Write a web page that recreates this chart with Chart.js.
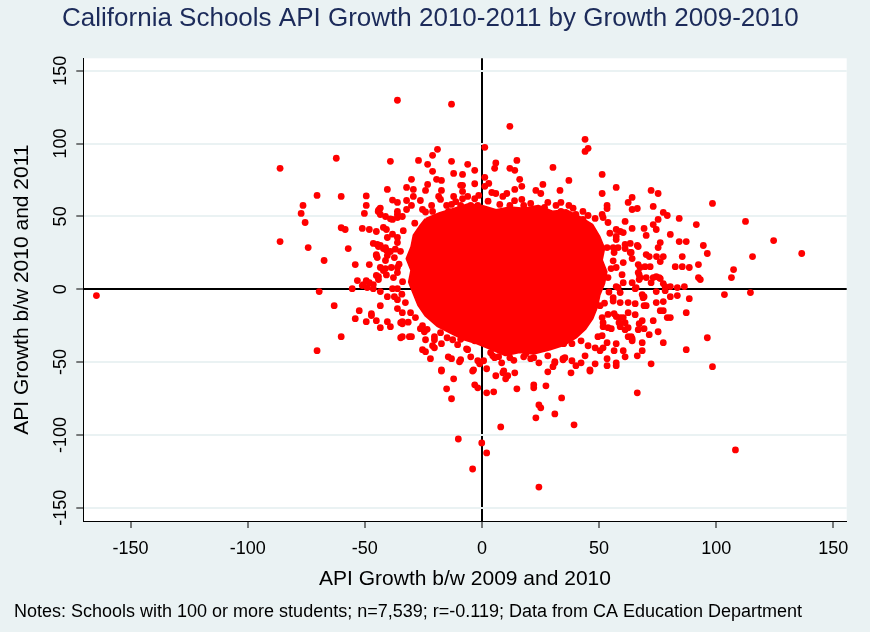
<!DOCTYPE html>
<html>
<head>
<meta charset="utf-8">
<title>California Schools API Growth</title>
<script src="https://cdn.jsdelivr.net/npm/chart.js@4.4.0/dist/chart.umd.min.js"></script>
<style>
  html, body { margin: 0; padding: 0; background: #eaf2f3; }
  canvas { display: block; }
</style>
</head>
<body>
<canvas id="apiChart" width="870" height="632"></canvas>
<script>
const xTicks = [-150, -100, -50, 0, 50, 100, 150];
const yTicks = [-150, -100, -50, 0, 50, 100, 150];

// [growth 2009-10, growth 2010-11] for schools that can still be told apart
const leftSchools = [
  [-164.6,-4.4],
  [-86.2,83.0],[-62.2,89.9],[-70.4,64.4],[-60.1,63.7],[-76.4,57.5],[-77.2,52.0],[-75.5,45.8],[-60.1,42.2],
  [-86.2,32.7],[-74.2,28.6],[-67.4,19.7],[-69.5,-1.6],[-63.1,-11.3],[-60.1,-32.6],[-70.4,-42.2],
  [-39.1,87.8],[-49.4,64.0],[-49.4,57.5],[-50.2,52.0],[-40.4,68.5],[-38.2,61.2],[-36.1,59.6],[-43.4,55.7],
  [-44.3,53.4],[-41.2,49.9],[-39.1,48.3],[-58.4,41.0],[-51.1,41.7],[-48.1,41.0],[-45.1,39.6],[-42.1,42.4],
  [-57.1,27.9],[-54.1,16.9],[-48.1,16.9],[-46.4,31.4],[-44.7,30.7],[-45.1,23.1],[-53.2,5.9],[-49.4,5.9],
  [-51.1,2.5],[-55.4,0.4],[-52.4,-14.7],[-54.1,-20.2],[-49.4,-22.3],[-47.2,-16.8],[-45.1,-21.6],[-43.4,-26.4],
  [-43.4,-11.3],[-40.4,-22.3],[-39.1,-25.7],[-40.4,-5.1],[-43.4,-1.6],[-46.4,0.4],[-45.1,9.4],[-42.1,12.8],
  [-44.7,21.7],[-41.2,19.7],[-44.2,29.3],[-42.1,27.9],[-40.8,26.8],[-45.1,23.8],[-44.2,8.7],[-47.2,-18.1],
  [-36.1,53.4],[-38.2,47.9],[-36.1,49.2],[-40.8,41.0],[-38.2,37.8],[-36.1,35.5],[-40.4,35.5],[-43.4,30.0],
  [-41.2,28.6],[-39.1,25.9],[-37.0,27.5],[-36.1,32.0],[-40.4,23.1],[-37.4,21.7],[-35.4,17.2],[-43.4,14.9],
  [-41.2,14.2],[-38.7,14.9],[-36.1,14.9],[-40.8,9.8],[-37.8,8.0],[-36.1,11.4],[-44.2,6.6],[-48.1,4.5],
  [-46.4,3.2],[-50.7,3.2],[-49.0,1.1],[-38.2,0.4],[-36.1,0.4],[-37.4,-5.1],[-36.1,-7.2],[-34.7,-23.0],
  [-34.7,-33.3],[-34.0,-16.1],[-30.5,-16.1],[-28.4,-19.5],[-32.7,-9.2],[-23.4,-27.5],[-17.7,-29.8],
  [-14.9,-33.3],[-9.1,-34.4],[-33.6,40.2],[-34.8,26.0],[-33.9,5.2],[-34.2,-3.4],[-31.5,-22.6],[-28.7,45.3]
];

const topSchools = [
  [-36.1,129.7],[-13.0,127.0],[11.9,111.8],[44.0,102.9],[44.0,94.6],[45.3,96.7],[1.2,97.4],[-19.0,96.0],
  [-21.1,91.9],[-27.1,88.4],[-23.2,85.7],[-13.0,87.8],[-6.1,85.7],[-3.1,81.6],[-21.1,80.9],[-12.1,79.5],
  [-8.3,78.8],[-30.1,75.4],[-32.2,69.9],[-23.2,71.9],[-19.4,75.4],[-17.3,74.7],[-17.3,67.8],[-8.3,71.3],
  [-3.1,72.4],[1.2,76.8],[2.9,72.6],[5.9,86.7],[5.4,83.0],[11.9,83.0],[14.9,88.4],[14.0,81.6],[16.1,75.4],
  [17.0,70.6],[30.3,83.6],[37.1,74.7],[26.0,71.9],[33.3,67.8],[23.0,67.8],[25.1,65.7],[51.3,78.8],[51.3,65.7],
  [4.2,66.4],[5.9,65.7],[10.6,65.7],[14.0,68.5],[-43.8,54.7],[-32.2,60.9],[-29.3,68.5],[-26.3,60.9],
  [-24.1,67.8],[28.1,59.6],[31.6,57.5],[33.7,59.6],[37.1,57.5],[43.1,53.4],[51.3,51.3],
  [-30.1,57.5],[-29.3,63.7],[-32.2,54.7],[-25.4,54.7],[-24.1,53.0],[-21.5,57.5],[-21.1,53.4],[-18.5,63.7],
  [-17.7,61.6],[-15.1,57.5],[-14.3,53.4],[-12.1,63.7],[-13.0,58.2],[-9.1,71.3],[-8.3,67.1],[-8.3,62.1],
  [-9.1,57.5],[-6.1,63.7],[-4.8,57.5],[-3.1,62.1],[-1.4,64.4],[-1.8,57.5],[1.2,70.6],[7.6,58.2],[8.9,63.7],
  [11.9,57.5],[17.0,61.6],[17.8,57.5],[18.7,54.1],[22.1,53.4],[25.1,52.7],[40.1,51.3],[45.3,50.6],
  [28.6,50.6],[33.7,53.4],[-44.2,54.1],[-43.4,51.3],[-36.1,51.3],[-34.0,49.9],
  [2.6,60.4],[13.9,60.8],[20.8,58.9],[26.7,56.1],[38.9,55.6],[-11.2,60.1]
];

const rightSchools = [
  [57.3,69.9],[64.1,63.0],[62.4,59.6],[72.2,67.8],[75.2,65.7],[53.4,57.5],[53.4,55.4],[64.1,54.7],
  [66.3,55.4],[73.1,56.8],[77.4,52.7],[79.1,50.6],[84.2,48.6],[98.4,58.9],[61.1,46.5],[75.2,47.9],
  [91.5,44.4],[112.5,46.5],[64.1,41.7],[69.2,41.7],[74.4,41.0],[73.1,44.4],[80.4,37.6],[70.1,36.9],
  [124.5,33.4],[136.5,24.5],[84.2,32.7],[87.2,32.7],[94.5,30.0],[96.2,24.5],[85.5,22.4],[115.5,22.4],
  [82.5,15.5],[85.5,15.5],[88.5,14.9],[92.4,16.9],[107.4,13.5],[106.5,8.0],[92.4,8.0],[93.2,6.6],
  [103.5,-3.7],[114.6,-2.3],[80.4,1.8],[83.4,1.1],[86.4,1.8],[74.4,-1.6],[78.2,-1.0],[88.5,-6.5],
  [80.4,-5.1],[83.4,-4.4],[74.4,-9.2],[77.4,-8.5],[87.2,-16.1],[76.1,-14.7],[77.4,-14.7],[79.1,-19.5],
  [80.4,-19.5],[73.1,-21.6],[68.4,-21.6],[67.1,-23.7],[75.2,-29.2],[69.2,-27.1],[71.4,-31.2],[96.2,-33.3],
  [77.4,-36.7],[68.4,-36.7],[64.1,-34.0],[64.1,-35.4],[87.2,-41.5],[68.4,-42.2],[66.3,-45.7],[61.1,-46.4],
  [72.2,-51.2],[98.4,-53.2],[57.3,-50.5],[57.3,-52.5],[53.4,-47.7],[53.4,-52.5],[60.3,-42.2],[56.4,-42.2],
  [57.3,-37.4],[65.4,-17.5],[71.4,22.4],[74.5,22.4],[76.1,19.0],[55.2,-27.1],[62.4,-32.6],
  [43.1,47.9],[48.3,48.6],[51.7,49.2],[53.8,45.8],[77.4,22.4],[75.2,28.6],[76.1,32.0],[66.7,29.3],
  [61.1,27.9],[63.7,25.2],[70.1,23.8],[74.4,8.7],[75.6,8.0],[70.1,8.0],[72.2,4.5],[66.7,11.4],[67.5,8.0],
  [78.2,1.8],[69.2,-5.1],[70.1,-11.3],[65.4,0.4],[49.5,-32.6],[63.7,-32.6],[66.7,-27.8],[60.3,-19.5],
  [61.1,-23.0],[58.5,-23.0],[57.3,-18.8],[62.4,-16.1],[68.4,-3.7],[77.4,3.9],[31.1,-49.8],[30.3,-53.2],
  [34.6,-47.7],[57.3,41.0],[59.0,39.6],[60.3,38.9],[57.3,36.2],[57.3,34.1],[61.1,30.7],[63.3,31.4],
  [66.3,30.0],[56.0,28.6],[56.4,25.2],[63.3,25.2],[64.1,21.0],[66.7,16.9],[60.3,18.3],[57.3,14.9],
  [59.8,10.0],[67.5,14.9],[69.6,15.5],[71.8,15.5],[67.1,10.0],[67.1,6.6],[73.1,8.0],[76.1,7.3],[60.3,4.5],
  [64.1,4.5],[65.8,1.1],[57.3,1.8],[59.0,-2.3],[56.0,-5.8],[59.0,-9.2],[62.4,-9.2],[65.4,-9.9],[68.8,-5.8],
  [69.2,-11.3],[56.4,-16.8],[59.0,-19.5],[62.4,-26.4],[59.0,-25.7],[61.1,-27.8],[51.7,-23.0],[53.8,-26.4],
  [53.4,-36.7],[51.7,-40.2],[53.4,28.6],[58.1,28.6],[56.0,19.5],[53.8,8.0],[58.1,1.1],[56.0,-8.1],[53.8,-17.3],
  [54.6,38.4],[55.1,14.2],[54.2,-1.9],[52.3,-9.6]
];

const bottomSchools = [
  [66.3,-71.1],[108.2,-110.3],[-12.1,-61.5],[-15.1,-68.4],[-13.0,-75.2],[-3.1,-65.6],[-1.8,-67.7],
  [2.0,-71.1],[5.0,-70.4],[5.9,-59.4],[8.9,-57.4],[11.0,-59.4],[10.1,-61.5],[14.0,-57.4],[14.9,-68.4],
  [22.1,-65.6],[22.1,-67.7],[27.3,-66.3],[28.1,-56.7],[38.0,-57.4],[46.1,-56.2],[34.0,-74.6],[24.3,-79.4],
  [25.1,-81.4],[23.0,-88.3],[31.1,-85.6],[39.3,-93.1],[8.0,-94.5],[-10.1,-102.8],[-0.1,-105.5],
  [2.0,-112.4],[-4.0,-123.4],[24.3,-135.8],[-17.3,-56.2],[-4.0,-56.2],
  [-34.0,-22.3],[-34.0,-23.7],[-36.1,-13.3],[-34.0,-32.6],[-31.0,-32.6],[-30.1,-32.6],[-25.4,-25.0],
  [-26.3,-27.1],[-24.6,-29.2],[-24.1,-34.7],[-25.4,-41.5],[-24.1,-42.9],[-22.0,-47.7],[-21.1,-38.8],
  [-20.3,-40.2],[-20.3,-32.6],[-20.3,-34.7],[-17.3,-37.4],[-12.5,-34.7],[-17.3,-55.3],[-14.4,-46.4],
  [-13.0,-47.7],[-9.6,-49.8],[-9.1,-48.4],[-6.1,-41.5],[-4.8,-46.4],[-3.6,-55.3],[-1.8,-49.1],[-1.0,-51.2],
  [2.0,-54.6],[0.7,-49.1],[4.6,-45.7],[5.4,-47.0],[8.4,-50.5],[9.3,-56.0],[11.9,-47.0],[16.1,-41.5],
  [17.8,-46.4],[22.1,-47.0],[24.3,-50.5],[28.1,-45.7],[31.1,-50.5],[34.6,-48.4],[35.4,-47.0],[38.4,-49.1],
  [40.1,-52.5],[42.3,-50.5],[46.1,-55.3],[48.3,-51.2],[44.0,-45.7],[48.3,-40.2],[51.3,-31.9],[50.4,-42.2],
  [45.3,-38.8],[50.4,-11.3],[51.3,-19.5],[51.7,-25.7],[42.3,-35.4],[38.4,-37.4],[34.9,-37.4],[18.7,-44.3],
  [20.8,-47.7],[11.9,-41.5],[3.7,-43.6],[-3.1,-35.4],[-6.6,-40.9],[7.1,-46.3],[13.6,-48.8],[-10.4,-38.1]
];

// edge of the middle of the cloud, where thousands of dots merge into solid red
const cloudOutline = [
  [-24,48],[-18,52],[-12,55],[-6,58],[0,57],[6,54],[12,56],[18,55],[24,57],[30,53],[36,54],[42,49],
  [47,44],[50,36],[52,28],[51,20],[53,12],[52,4],[50,-4],[49,-12],[47,-20],[44,-27],[40,-33],[35,-38],
  [29,-41],[22,-44],[16,-43],[10,-45],[4,-41],[-2,-37],[-8,-34],[-13,-30],[-19,-25],[-24,-18],[-27,-11],
  [-29,-3],[-31,5],[-30,13],[-32,21],[-30,29],[-29,37],[-26,44],[-24,48]
];

const toXY = p => ({ x: p[0], y: p[1] });
const schoolPoints = [].concat(leftSchools, topSchools, rightSchools, bottomSchools).map(toXY);
const cloudPoints = cloudOutline.map(toXY);

const FONT = "'Liberation Sans', Arial, sans-serif";
const BG = '#eaf2f3';

// light page colour outside, white plot region
const plotBg = {
  id: 'plotBg',
  beforeDraw(chart) {
    const { ctx, chartArea: a } = chart;
    ctx.save();
    ctx.fillStyle = BG;
    ctx.fillRect(0, 0, chart.width, chart.height);
    ctx.fillStyle = '#ffffff';
    ctx.fillRect(a.left, a.top, a.right - a.left, a.bottom - a.top);
    ctx.restore();
  }
};

const isZero = c => c.tick && c.tick.value === 0;

new Chart(document.getElementById('apiChart'), {
  type: 'scatter',
  data: {
    datasets: [
      {
        type: 'line',
        label: 'dense cloud',
        data: cloudPoints,
        borderColor: '#ff0000',
        backgroundColor: '#ff0000',
        borderWidth: 3,
        borderJoinStyle: 'round',
        pointRadius: 0,
        fill: 'shape',
        tension: 0
      },
      {
        label: 'schools',
        data: schoolPoints,
        backgroundColor: '#ff0000',
        borderWidth: 0,
        pointRadius: 3.4
      }
    ]
  },
  options: {
    responsive: false,
    devicePixelRatio: 1,
    animation: false,
    layout: { padding: { left: 14, right: 23.3, top: 0, bottom: 0 } },
    plugins: {
      legend: { display: false },
      tooltip: { enabled: false },
      title: {
        display: true,
        text: 'California Schools API Growth 2010-2011 by Growth 2009-2010',
        color: '#1c2b5a',
        font: { family: FONT, size: 26, weight: 'normal' },
        padding: { top: 3, bottom: 24.1 }
      },
      subtitle: {
        display: true,
        position: 'bottom',
        align: 'start',
        text: 'Notes: Schools with 100 or more students; n=7,539; r=-0.119; Data from CA Education Department',
        color: '#000000',
        font: { family: FONT, size: 18, weight: 'normal' },
        padding: { top: 0, bottom: 9.4 }
      }
    },
    scales: {
      x: {
        type: 'linear',
        min: -170.2,
        max: 155.7,
        afterBuildTicks: s => { s.ticks = xTicks.map(v => ({ value: v })); },
        afterFit: s => { s.height = 80; },
        grid: {
          color: c => isZero(c) ? '#000000' : 'rgba(0,0,0,0)',
          lineWidth: c => isZero(c) ? 2 : 0,
          tickColor: '#000000',
          tickWidth: 1,
          tickLength: 7
        },
        border: { color: '#000000', width: 1 },
        ticks: {
          color: '#000000',
          font: { family: FONT, size: 18 },
          padding: 10,
          maxRotation: 0
        },
        title: {
          display: true,
          text: 'API Growth b/w 2009 and 2010',
          color: '#000000',
          font: { family: FONT, size: 21 },
          padding: { top: 0, bottom: 9.4 }
        }
      },
      y: {
        type: 'linear',
        min: -159.1,
        max: 158.5,
        afterBuildTicks: s => { s.ticks = yTicks.map(v => ({ value: v })); },
        afterFit: s => { s.width = 69.3; },
        grid: {
          color: c => isZero(c) ? '#000000' : BG,
          lineWidth: 2,
          tickColor: '#000000',
          tickWidth: 1,
          tickLength: 7
        },
        border: { color: '#000000', width: 1 },
        ticks: {
          color: '#000000',
          font: { family: FONT, size: 18 },
          minRotation: 90,
          maxRotation: 90,
          crossAlign: 'center',
          padding: -2.7
        },
        title: {
          display: true,
          text: 'API Growth b/w 2010 and 2011',
          color: '#000000',
          font: { family: FONT, size: 21 },
          padding: { top: -4.6, bottom: 0 }
        }
      }
    }
  },
  plugins: [plotBg]
});
</script>
</body>
</html>
